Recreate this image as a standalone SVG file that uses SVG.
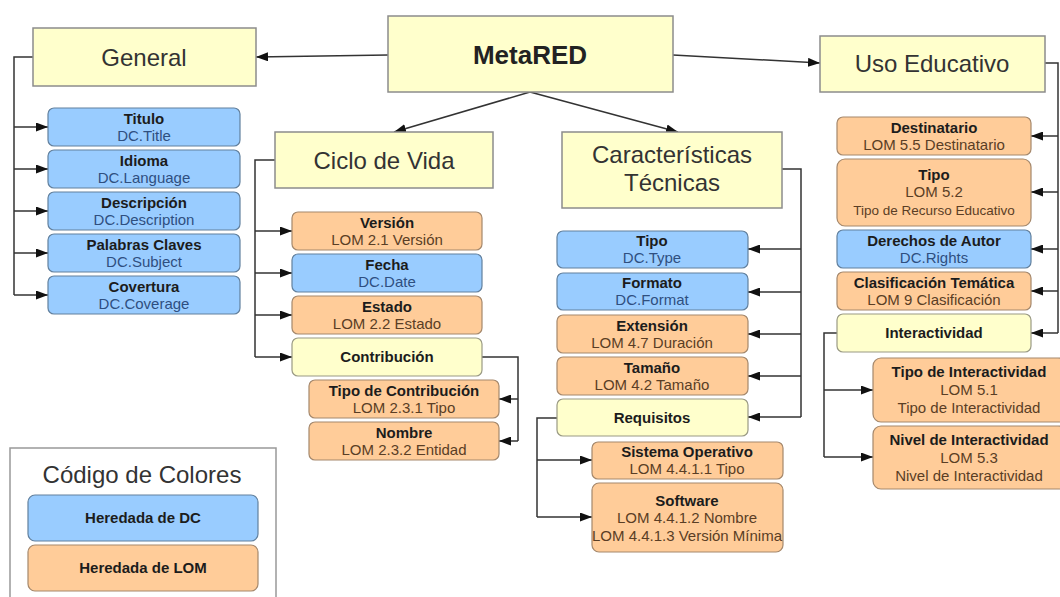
<svg xmlns="http://www.w3.org/2000/svg" width="1060" height="597" viewBox="0 0 1060 597">
<style>
.hd{fill:#ffffcc;stroke:#8c8c8c;stroke-width:1.5}
.dc{fill:#99ccff;stroke:#62809e;stroke-width:1.2}
.lom{fill:#ffcc99;stroke:#a5886c;stroke-width:1.2}
.yl{fill:#ffffcc;stroke:#9a9a84;stroke-width:1.2}
text{font-family:"Liberation Sans",Arial,sans-serif;text-anchor:middle}
.h{font-size:24px;fill:#333}
.m{font-size:26px;font-weight:bold;fill:#222}
.t{font-size:15px;font-weight:bold;fill:#1c1c1c}
.sb{font-size:15px;fill:#2f4f7f}
.so{font-size:15px;fill:#5a3e25}
.c{fill:none;stroke:#333;stroke-width:1.5}
</style>
<defs>
<marker id="a" markerUnits="userSpaceOnUse" markerWidth="12" markerHeight="9" refX="12" refY="4.5" orient="auto"><path d="M0,0 L12,4.5 L0,9 z" fill="#111"/></marker>
</defs>
<g id="connectors">
<path class="c" d="M388,55 L256,57" marker-end="url(#a)"/>
<path class="c" d="M673,55 L820,63" marker-end="url(#a)"/>
<path class="c" d="M530,92 L394,132" marker-end="url(#a)"/>
<path class="c" d="M530,92 L678,132" marker-end="url(#a)"/>
<path class="c" d="M33,57 H14 V295"/>
<path class="c" d="M14,127 H48" marker-end="url(#a)"/>
<path class="c" d="M14,169 H48" marker-end="url(#a)"/>
<path class="c" d="M14,211 H48" marker-end="url(#a)"/>
<path class="c" d="M14,253 H48" marker-end="url(#a)"/>
<path class="c" d="M14,295 H48" marker-end="url(#a)"/>
<path class="c" d="M275,160 H255 V357"/>
<path class="c" d="M255,231 H292" marker-end="url(#a)"/>
<path class="c" d="M255,273 H292" marker-end="url(#a)"/>
<path class="c" d="M255,315 H292" marker-end="url(#a)"/>
<path class="c" d="M255,357 H292" marker-end="url(#a)"/>
<path class="c" d="M482,357 H518 V441"/>
<path class="c" d="M518,399 H499" marker-end="url(#a)"/>
<path class="c" d="M518,441 H499" marker-end="url(#a)"/>
<path class="c" d="M782,169 H801 V417"/>
<path class="c" d="M801,249 H748" marker-end="url(#a)"/>
<path class="c" d="M801,292 H748" marker-end="url(#a)"/>
<path class="c" d="M801,334 H748" marker-end="url(#a)"/>
<path class="c" d="M801,376 H748" marker-end="url(#a)"/>
<path class="c" d="M801,417 H748" marker-end="url(#a)"/>
<path class="c" d="M557,418 H537 V517"/>
<path class="c" d="M537,460 H592" marker-end="url(#a)"/>
<path class="c" d="M537,517 H592" marker-end="url(#a)"/>
<path class="c" d="M1045,63 H1058 V333"/>
<path class="c" d="M1058,136 H1031" marker-end="url(#a)"/>
<path class="c" d="M1058,192 H1031" marker-end="url(#a)"/>
<path class="c" d="M1058,249 H1031" marker-end="url(#a)"/>
<path class="c" d="M1058,291 H1031" marker-end="url(#a)"/>
<path class="c" d="M1058,333 H1031" marker-end="url(#a)"/>
<path class="c" d="M837,333 H824 V457"/>
<path class="c" d="M824,390 H873" marker-end="url(#a)"/>
<path class="c" d="M824,457 H873" marker-end="url(#a)"/>
</g>
<g id="metared"><rect class="hd" x="388" y="16" width="285" height="76"/><text class="m" x="530" y="64">MetaRED</text></g>
<g id="general"><rect class="hd" x="33" y="28" width="223" height="58"/><text class="h" x="144" y="66">General</text></g>
<g id="uso"><rect class="hd" x="820" y="36" width="225" height="56"/><text class="h" x="932" y="72">Uso Educativo</text></g>
<g id="ciclo"><rect class="hd" x="275" y="132" width="218" height="56"/><text class="h" x="384" y="169">Ciclo de Vida</text></g>
<g id="caract"><rect class="hd" x="562" y="132" width="220" height="76"/><text class="h" x="672" y="163">Características</text><text class="h" x="672" y="191">Técnicas</text></g>

<g id="titulo"><rect class="dc" x="48" y="108" width="192" height="38" rx="6"/><text class="t" x="144" y="124">Titulo</text><text class="sb" x="144" y="141">DC.Title</text></g>
<g id="idioma"><rect class="dc" x="48" y="150" width="192" height="38" rx="6"/><text class="t" x="144" y="166">Idioma</text><text class="sb" x="144" y="183">DC.Language</text></g>
<g id="descripcion"><rect class="dc" x="48" y="192" width="192" height="38" rx="6"/><text class="t" x="144" y="208">Descripción</text><text class="sb" x="144" y="225">DC.Description</text></g>
<g id="palabras"><rect class="dc" x="48" y="234" width="192" height="38" rx="6"/><text class="t" x="144" y="250">Palabras Claves</text><text class="sb" x="144" y="267">DC.Subject</text></g>
<g id="covertura"><rect class="dc" x="48" y="276" width="192" height="38" rx="6"/><text class="t" x="144" y="292">Covertura</text><text class="sb" x="144" y="309">DC.Coverage</text></g>

<g id="version"><rect class="lom" x="292" y="212" width="190" height="38" rx="6"/><text class="t" x="387" y="228">Versión</text><text class="so" x="387" y="245">LOM 2.1 Versión</text></g>
<g id="fecha"><rect class="dc" x="292" y="254" width="190" height="38" rx="6"/><text class="t" x="387" y="270">Fecha</text><text class="sb" x="387" y="287">DC.Date</text></g>
<g id="estado"><rect class="lom" x="292" y="296" width="190" height="38" rx="6"/><text class="t" x="387" y="312">Estado</text><text class="so" x="387" y="329">LOM 2.2 Estado</text></g>
<g id="contribucion"><rect class="yl" x="292" y="338" width="190" height="38" rx="6"/><text class="t" x="387" y="362">Contribución</text></g>
<g id="tipocontrib"><rect class="lom" x="309" y="380" width="190" height="38" rx="6"/><text class="t" x="404" y="396">Tipo de Contribución</text><text class="so" x="404" y="413">LOM 2.3.1 Tipo</text></g>
<g id="nombre"><rect class="lom" x="309" y="422" width="190" height="38" rx="6"/><text class="t" x="404" y="438">Nombre</text><text class="so" x="404" y="455">LOM 2.3.2 Entidad</text></g>

<g id="tipo"><rect class="dc" x="557" y="231" width="191" height="37" rx="6"/><text class="t" x="652" y="246">Tipo</text><text class="sb" x="652" y="263">DC.Type</text></g>
<g id="formato"><rect class="dc" x="557" y="273" width="191" height="37" rx="6"/><text class="t" x="652" y="288">Formato</text><text class="sb" x="652" y="305">DC.Format</text></g>
<g id="extension"><rect class="lom" x="557" y="315" width="191" height="38" rx="6"/><text class="t" x="652" y="331">Extensión</text><text class="so" x="652" y="348">LOM 4.7 Duración</text></g>
<g id="tamano"><rect class="lom" x="557" y="357" width="191" height="38" rx="6"/><text class="t" x="652" y="373">Tamaño</text><text class="so" x="652" y="390">LOM 4.2 Tamaño</text></g>
<g id="requisitos"><rect class="yl" x="557" y="399" width="191" height="37" rx="6"/><text class="t" x="652" y="423">Requisitos</text></g>
<g id="sistema"><rect class="lom" x="592" y="442" width="191" height="37" rx="6"/><text class="t" x="687" y="457">Sistema Operativo</text><text class="so" x="687" y="474">LOM 4.4.1.1 Tipo</text></g>
<g id="software"><rect class="lom" x="592" y="483" width="191" height="69" rx="7"/><text class="t" x="687" y="506">Software</text><text class="so" x="687" y="523">LOM 4.4.1.2 Nombre</text><text class="so" x="687" y="541">LOM 4.4.1.3 Versión Mínima</text></g>

<g id="destinatario"><rect class="lom" x="837" y="117" width="194" height="38" rx="6"/><text class="t" x="934" y="133">Destinatario</text><text class="so" x="934" y="150">LOM 5.5 Destinatario</text></g>
<g id="tipouso"><rect class="lom" x="837" y="159" width="194" height="67" rx="8"/><text class="t" x="934" y="180">Tipo</text><text class="so" x="934" y="197">LOM 5.2</text><text class="so" x="934" y="215" style="font-size:13.5px">Tipo de Recurso Educativo</text></g>
<g id="derechos"><rect class="dc" x="837" y="230" width="194" height="38" rx="6"/><text class="t" x="934" y="246">Derechos de Autor</text><text class="sb" x="934" y="263">DC.Rights</text></g>
<g id="clasificacion"><rect class="lom" x="837" y="272" width="194" height="38" rx="6"/><text class="t" x="934" y="288">Clasificación Temática</text><text class="so" x="934" y="305">LOM 9 Clasificación</text></g>
<g id="interactividad"><rect class="yl" x="837" y="314" width="194" height="38" rx="6"/><text class="t" x="934" y="338">Interactividad</text></g>
<g id="tipointer"><rect class="lom" x="873" y="358" width="193" height="64" rx="8"/><text class="t" x="969" y="377">Tipo de Interactividad</text><text class="so" x="969" y="395">LOM 5.1</text><text class="so" x="969" y="413">Tipo de Interactividad</text></g>
<g id="nivelinter"><rect class="lom" x="873" y="426" width="193" height="63" rx="8"/><text class="t" x="969" y="445">Nivel de Interactividad</text><text class="so" x="969" y="463">LOM 5.3</text><text class="so" x="969" y="481">Nivel de Interactividad</text></g>

<g id="leyenda"><rect x="10" y="448" width="266" height="160" fill="#fff" stroke="#999" stroke-width="1.5"/><text class="h" x="142" y="483">Código de Colores</text><rect class="dc" x="28" y="495" width="230" height="46" rx="7"/><text class="t" x="143" y="523">Heredada de DC</text><rect class="lom" x="28" y="545" width="230" height="46" rx="7"/><text class="t" x="143" y="573">Heredada de LOM</text></g>
</svg>
